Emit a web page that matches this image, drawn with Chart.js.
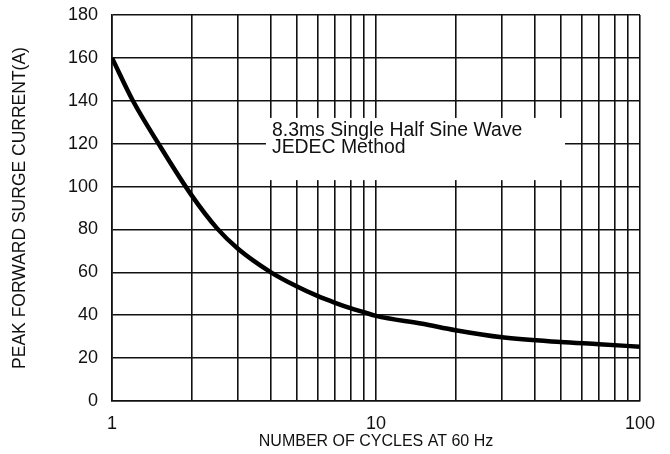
<!DOCTYPE html>
<html>
<head>
<meta charset="utf-8">
<script src="https://cdn.jsdelivr.net/npm/chart.js@4"></script>
<style>
	html, body { margin: 0; padding: 0; background: #fff; }
	#wrap { width: 670px; height: 454px; }
</style>
</head>
<body>
<div id="wrap"><canvas id="surge-chart"></canvas></div>
<script>
const cycles = [1, 1.2, 1.5, 2, 2.5, 3, 4, 5, 6, 7, 8, 9, 10, 15, 20, 30, 50, 70, 100];
const surgeCurrent = [160, 140, 120, 96, 80.5, 71, 60, 53.5, 49, 45.8, 43.3, 41.4, 39.7, 36, 33, 29.7, 27.5, 26.5, 25.3];
const xTicks = [1, 2, 3, 4, 5, 6, 7, 8, 9, 10, 20, 30, 40, 50, 60, 70, 80, 90, 100];
const xLabels = [1, 10, 100];
const noteLines = ['8.3ms Single Half Sine Wave', 'JEDEC Method'];

document.addEventListener('DOMContentLoaded', function () {
	const canvas = document.getElementById('surge-chart');
	const fontFamily = "'Liberation Sans', Arial, sans-serif";

	// white box with the test condition text, covers the grid
	const notePlugin = {
		id: 'note',
		beforeDatasetsDraw: function (chart) {
			const ctx = chart.ctx;
			const x = chart.scales.x;
			const y = chart.scales.y;
			const left = x.getPixelForValue(3.83);
			const right = x.getPixelForValue(52);
			const top = y.getPixelForValue(132);
			const bottom = y.getPixelForValue(103);

			ctx.save();
			ctx.fillStyle = '#fff';
			ctx.fillRect(left, top, right - left, bottom - top);
			ctx.fillStyle = '#111';
			ctx.font = '19.4px ' + fontFamily;
			ctx.textBaseline = 'alphabetic';
			noteLines.forEach((line, i) => {
				ctx.fillText(line, left + 6, top + 18.5 + i * 16.5);
			});
			ctx.restore();
		}
	};

	new Chart(canvas, {
		type: 'line',
		data: {
			datasets: [{
				data: cycles.map((c, i) => ({ x: c, y: surgeCurrent[i] })),
				borderColor: '#000',
				borderWidth: 4.5,
				pointRadius: 0,
				cubicInterpolationMode: 'monotone',
				fill: false
			}]
		},
		options: {
			responsive: true,
			maintainAspectRatio: false,
			animation: false,
			layout: {
				padding: { top: 15, right: 30, left: 0, bottom: 0 }
			},
			plugins: {
				legend: { display: false },
				tooltip: { enabled: false }
			},
			scales: {
				x: {
					type: 'logarithmic',
					min: 1,
					max: 100,
					afterBuildTicks: function (scale) {
						scale.ticks = xTicks.map(v => ({ value: v }));
					},
					afterFit: function (scale) {
						scale.height = 53;
					},
					grid: {
						color: '#111',
						lineWidth: 1.6,
						drawTicks: false
					},
					border: { color: '#111', width: 1.6 },
					ticks: {
						autoSkip: false,
						maxRotation: 0,
						padding: 12,
						color: '#111',
						font: { family: fontFamily, size: 18 },
						callback: function (value) {
							return xLabels.includes(value) ? String(value) : '';
						}
					},
					title: {
						display: true,
						text: 'NUMBER OF CYCLES AT 60 Hz',
						color: '#111',
						font: { family: fontFamily, size: 16 },
						padding: { top: 0, bottom: 3 }
					}
				},
				y: {
					min: 0,
					max: 180,
					afterFit: function (scale) {
						scale.width = 112;
					},
					grid: {
						color: '#111',
						lineWidth: 1.6,
						drawTicks: false
					},
					border: { color: '#111', width: 1.6 },
					ticks: {
						stepSize: 20,
						padding: 14,
						color: '#111',
						// small lineHeight so the labels do not push the plot down
						font: { family: fontFamily, size: 18, lineHeight: 0.1 }
					},
					title: {
						display: true,
						text: 'PEAK FORWARD SURGE CURRENT(A)',
						color: '#111',
						font: { family: fontFamily, size: 17.5 },
						padding: { top: 10, bottom: 0 }
					}
				}
			}
		},
		plugins: [notePlugin]
	});
});
</script>
</body>
</html>
